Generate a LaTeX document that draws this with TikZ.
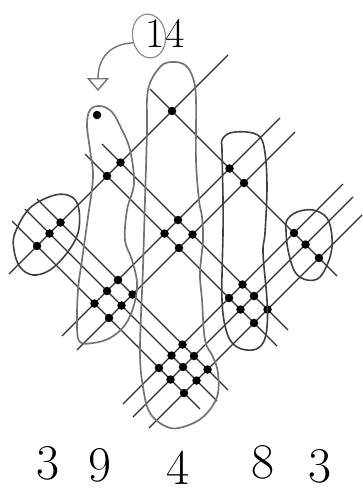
\documentclass[tikz,border=0pt]{standalone}
\usepackage{fontspec}
\usetikzlibrary{arrows.meta,shapes.geometric}
\tikzset{
  ln/.style={draw=black!82,line width=1.1pt},
  dot/.style={circle,fill=black,inner sep=0pt,minimum size=8.5pt},
  loopA/.style={draw=black!75,line width=1.6pt},
  loopB/.style={draw=black!55,line width=1.7pt},
  digit/.style={font=\fontsize{50}{50}\selectfont,inner sep=0pt},
}
\begin{document}
\begin{tikzpicture}[x=1pt,y=-1pt]
\useasboundingbox (0,0) rectangle (363,495);
% "/" lines (x+y constant)
\foreach \u/\xa/\xb [count=\i] in {283/9/228, 398/62/280, 427/77/295, 527/123/343, 550/133/353, 577/149/362}{
  \coordinate (pa\i) at (\xa,{\u-\xa});
  \coordinate (pb\i) at (\xb,{\u-\xb});
  \draw[ln] (pa\i) -- (pb\i);
}
% "\" lines (x-y constant)
\foreach \v/\xa/\xb [count=\j] in {61/150/337, -42/102/288, -69/85/277, -162/37/228, -184/25/217, -209/12/200}{
  \coordinate (qa\j) at (\xa,{\xa-\v});
  \coordinate (qb\j) at (\xb,{\xb-\v});
  \draw[ln] (qa\j) -- (qb\j);
}
% intersection dots
\foreach \u [count=\i] in {283,398,427,527,550,577}{
  \foreach \v [count=\j] in {61,-42,-69,-162,-184,-209}{
    \node[dot] (d\i\j) at ({(\u+\v)/2},{(\u-\v)/2}) {};
  }
}
\node[dot] (carry) at (97,115) {};
% loops
\draw[loopA] plot[smooth cycle,tension=0.6] coordinates {(15,233) (30,208) (55,195) (72,197) (79,210) (78,233) (67,253) (50,270) (33,275) (20,267) (14,250)};
\draw[loopB] plot[smooth cycle,tension=0.6] coordinates {(100,106) (112,112) (122,130) (130,150) (134,183) (127,210) (125,240) (132,260) (137,283) (134,305) (125,325) (110,338) (93,343) (80,342) (77,327) (78,290) (82,260) (88,217) (93,177) (90,150) (87,125) (90,110)};
\draw[loopB] plot[smooth cycle,tension=0.6] coordinates {(160,67) (172,62) (185,65) (193,78) (196,100) (196,160) (199,200) (202,217) (203,240) (200,273) (202,300) (205,340) (213,357) (218,373) (217,397) (203,417) (183,427) (167,427) (150,413) (143,387) (140,350) (143,267) (145,200) (147,133) (148,90)};
\draw[loopA] plot[smooth cycle,tension=0.6] coordinates {(222,140) (230,133) (247,132) (260,137) (265,153) (267,187) (265,233) (263,253) (267,300) (267,327) (263,343) (253,350) (237,347) (227,333) (222,300) (223,233) (223,200) (222,150)};
\draw[loopA] plot[smooth cycle,tension=0.6] coordinates {(287,220) (297,212) (313,210) (327,218) (332,237) (330,257) (320,277) (307,280) (295,272) (288,250) (286,230)};
% carry label and arrow
\node[font=\fontsize{42}{42}\selectfont,inner sep=0pt] (fourteen) at (165,33) {14};
\node[draw=black!45,line width=1.2pt,ellipse,minimum width=33pt,minimum height=44pt,inner sep=0pt,rotate=8] (c1) at (149,36) {};
\coordinate (tip) at (98,91);
\draw[draw=black!55,line width=1.4pt,-{Triangle[open,length=13pt,width=22pt]}] (c1.195) .. controls (110,44) and (98,58) .. (tip);
% result digits
\node[digit] (r1) at (48,463) {3};
\node[digit] (r2) at (100,465) {9};
\node[digit] (r3) at (178,468) {4};
\node[digit] (r4) at (263,462) {8};
\node[digit] (r5) at (320,466) {3};
\end{tikzpicture}
\end{document}
